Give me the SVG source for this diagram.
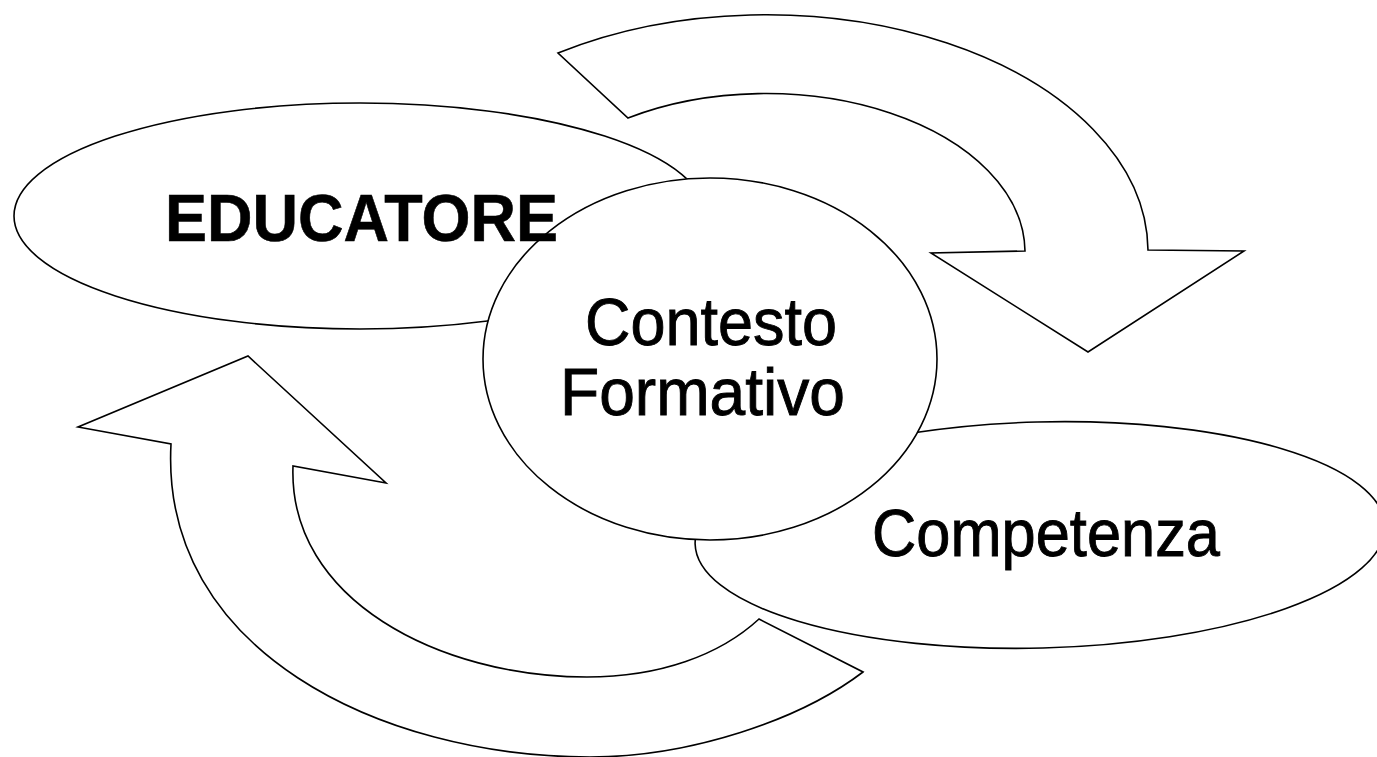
<svg xmlns="http://www.w3.org/2000/svg" width="1377" height="757" viewBox="0 0 1377 757">
<style>
.shape{fill:#fff;stroke:#000;stroke-width:1.6;stroke-linejoin:miter}
.lbl{font-family:"Liberation Sans",Arial,sans-serif;font-size:66px;fill:#000;stroke:#000;stroke-width:0.9}
.bold{font-weight:bold;stroke-width:0.6}
</style>
<defs>
<clipPath id="outsideCentral">
<path clip-rule="evenodd" d="M-10 -10 H1390 V770 H-10 Z M483 359 A227 181 0 1 0 937 359 A227 181 0 1 0 483 359 Z"/>
</clipPath>
</defs>
<rect width="1377" height="757" fill="#fff"/>
<g id="connectors">
<path id="arrow-top" class="shape" d="M558 53 A382 237 0 0 1 1148 250 L1244 251 L1088 352 L931 253 L1025 251 A259 159 0 0 0 628 118 Z"/>
<path id="arrow-bottom" class="shape" d="M171 444 C160 650 380 757 590 757 C690 757 800 720 863 672 L759 619 C720 655 660 677 587 677 C440 677 288 600 293 466 L386 483 L248 356 L78 427 Z"/>
</g>
<g id="node-competenza">
<ellipse class="shape" cx="1040" cy="535" rx="345" ry="113" transform="rotate(-1.5 1040 535)"/>
<text class="lbl" x="872" y="556" textLength="348" lengthAdjust="spacingAndGlyphs">Competenza</text>
</g>
<g id="node-contesto">
<ellipse class="shape" cx="710" cy="359" rx="227" ry="181"/>
<text class="lbl" x="585" y="345" textLength="252" lengthAdjust="spacingAndGlyphs">Contesto</text>
<text class="lbl" x="560" y="415" textLength="285" lengthAdjust="spacingAndGlyphs">Formativo</text>
</g>
<g id="node-educatore">
<ellipse cx="360" cy="216" rx="346" ry="113" fill="none" stroke="#000" stroke-width="1.6" clip-path="url(#outsideCentral)"/>
<text class="lbl bold" x="165" y="241" textLength="393" lengthAdjust="spacingAndGlyphs">EDUCATORE</text>
</g>
</svg>
